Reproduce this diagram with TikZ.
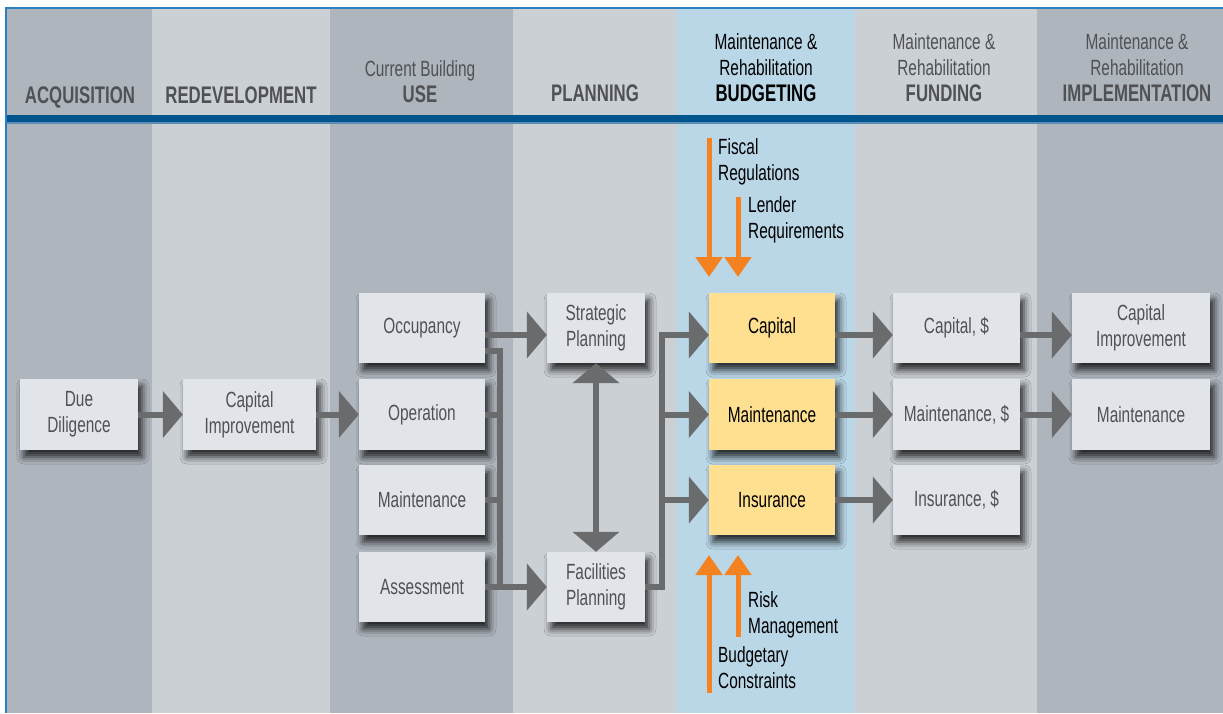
\documentclass[tikz,border=0pt]{standalone}
\usepackage{fontspec}
\setmainfont{Liberation Sans}[FakeStretch=0.7]
\usetikzlibrary{arrows.meta,shadows.blur}
\definecolor{colD}{HTML}{AEB5BD}
\definecolor{colL}{HTML}{CBD0D5}
\definecolor{colB}{HTML}{BAD7E8}
\definecolor{boxF}{HTML}{E1E5E9}
\definecolor{boxY}{HTML}{FFE091}
\definecolor{arrG}{HTML}{6A6B6D}
\definecolor{txtG}{HTML}{505155}
\definecolor{barB}{HTML}{00558C}
\definecolor{barL}{HTML}{5B8DB6}
\definecolor{frameB}{HTML}{2C7FC0}
\definecolor{orng}{HTML}{F58220}
\begin{document}
\begin{tikzpicture}[x=1pt,y=-1pt,
  box/.style={fill=boxF, minimum width=126pt, minimum height=70pt, inner sep=0pt,
    align=center, text=txtG, font=\fontsize{22}{26}\selectfont,
    blur shadow={shadow xshift=4pt, shadow yshift=-7pt, shadow blur radius=7pt, shadow opacity=80}},
  ybox/.style={box, fill=boxY, text=black},
  hdr/.style={anchor=south, inner sep=0pt, align=center, text=txtG, font=\fontsize{22}{26}\selectfont},
  hdrb/.style={anchor=base, inner sep=0pt, text=txtG, font=\bfseries\fontsize{24}{26}\selectfont},
  flow/.style={draw=arrG, line width=6pt, -{Triangle[length=20pt,width=46pt]}},
  flowtwo/.style={draw=arrG, line width=6pt, {Triangle[length=20pt,width=46pt]}-{Triangle[length=20pt,width=46pt]}},
  conn/.style={draw=arrG, line width=6pt},
  oarr/.style={draw=orng, line width=5pt, -{Triangle[length=20pt,width=26pt]}},
  side/.style={anchor=north west, inner sep=0pt, align=left, font=\fontsize{22}{26}\selectfont}
]
\useasboundingbox (0,0) rectangle (1223,713);
\fill[white] (0,0) rectangle (1223,713);
% columns
\fill[colD] (6,8) rectangle (152,713);
\fill[colL] (152,8) rectangle (330,713);
\fill[colD] (330,8) rectangle (513,713);
\fill[colL] (513,8) rectangle (677,713);
\fill[colB] (677,8) rectangle (855,713);
\fill[colL] (855,8) rectangle (1037,713);
\fill[colD] (1037,8) rectangle (1223,713);
% header bar
\fill[barB] (6,115) rectangle (1223,122);
\fill[barL] (6,122) rectangle (1223,124);
\draw[frameB, line width=2pt] (6,713) -- (6,8) -- (1223,8);
% headers
\node[hdrb] (h1) at (80,103) {ACQUISITION};
\node[hdrb] (h2) at (241,103) {REDEVELOPMENT};
\node[hdr] (h3) at (420,103) {Current Building\\{\bfseries\fontsize{24}{26}\selectfont USE}};
\node[hdrb] (h4) at (595,101) {PLANNING};
\node[hdr, text=black] (h5) at (766,102) {Maintenance \&\\Rehabilitation\\{\bfseries\fontsize{24}{26}\selectfont BUDGETING}};
\node[hdr] (h6) at (944,102) {Maintenance \&\\Rehabilitation\\{\bfseries\fontsize{24}{26}\selectfont FUNDING}};
\node[hdr] (h7) at (1137,102) {Maintenance \&\\Rehabilitation\\{\bfseries\fontsize{24}{26}\selectfont IMPLEMENTATION}};
% boxes
\node[box, minimum width=118pt, minimum height=71pt] (dd) at (79,414.5) {Due\\Diligence};
\node[box, minimum width=133pt, minimum height=71pt] (ci) at (249.5,414.5) {Capital\\Improvement};
\node[box] (occ) at (422,328) {Occupancy};
\node[box, minimum height=71pt] (op) at (422,414.5) {Operation};
\node[box] (mai) at (422,500) {Maintenance};
\node[box] (ass) at (422,587) {Assessment};
\node[box, minimum width=98pt] (strat) at (596,328) {Strategic\\Planning};
\node[box, minimum width=98pt] (fac) at (596,587) {Facilities\\Planning};
\node[ybox] (cap) at (772,328) {Capital};
\node[ybox, minimum height=71pt] (mnt) at (772,414.5) {Maintenance};
\node[ybox] (ins) at (772,500) {Insurance};
\node[box, minimum width=127pt] (capd) at (956.5,328) {Capital, \$};
\node[box, minimum width=127pt, minimum height=71pt] (mntd) at (956.5,414.5) {Maintenance, \$};
\node[box, minimum width=127pt] (insd) at (956.5,500) {Insurance, \$};
\node[box, minimum width=138pt] (capi) at (1141,328) {Capital\\Improvement};
\node[box, minimum width=138pt, minimum height=71pt] (mnti) at (1141,414.5) {Maintenance};
% connectors
\coordinate (busA) at (499.5,0);
\coordinate (busB) at (662,0);
\draw[flow] (dd.east) -- (ci.west);
\draw[flow] (ci.east) -- (op.west);
\draw[flow] ([yshift=-7pt]occ.east) -- ([yshift=-7pt]strat.west);
\draw[conn] ([yshift=-23pt]occ.east) -| (ass.east -| busA);
\draw[conn] (op.east) -- (op.east -| busA);
\draw[conn] (mai.east) -- (mai.east -| busA);
\draw[flow] (ass.east) -- (fac.west);
\draw[flowtwo] (strat.south) -- (fac.north);
\draw[flow] (fac.east) -| ([yshift=-7pt]cap.west -| busB) -- ([yshift=-7pt]cap.west);
\draw[flow] (mnt.west -| busB) -- (mnt.west);
\draw[flow] (ins.west -| busB) -- (ins.west);
\draw[flow] ([yshift=-7pt]cap.east) -- ([yshift=-7pt]capd.west);
\draw[flow] (mnt.east) -- (mntd.west);
\draw[flow] (ins.east) -- (insd.west);
\draw[flow] ([yshift=-7pt]capd.east) -- ([yshift=-7pt]capi.west);
\draw[flow] (mntd.east) -- (mnti.west);
% orange inputs
\coordinate (fs) at (709,138);
\coordinate (fe) at (709,277);
\coordinate (ls) at (738,197);
\coordinate (le) at (738,277);
\coordinate (bs) at (709,693);
\coordinate (be) at (709,555);
\coordinate (rs) at (738,637);
\coordinate (re) at (738,555);
\draw[oarr] (fs) -- (fe);
\draw[oarr] (ls) -- (le);
\draw[oarr] (bs) -- (be);
\draw[oarr] (rs) -- (re);
\node[side] (fiscal) at (718,138) {Fiscal\\Regulations};
\node[side] (lender) at (748,196) {Lender\\Requirements};
\node[side] (risk) at (748,591) {Risk\\Management};
\node[side] (budg) at (718,646) {Budgetary\\Constraints};
\end{tikzpicture}
\end{document}
